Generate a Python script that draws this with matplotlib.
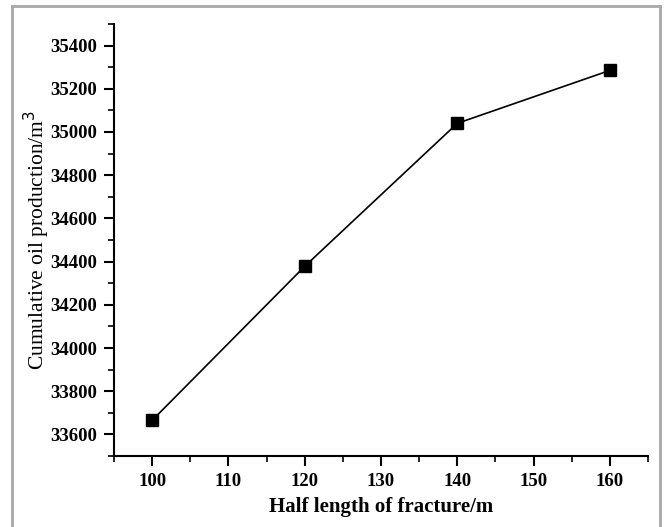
import matplotlib.pyplot as plt
from matplotlib.lines import Line2D
from matplotlib.ticker import MultipleLocator

# fracture half length (m) vs cumulative oil production (m3)
half_length = [100, 120, 140, 160]
cum_oil = [33665, 34378, 35040, 35285]

plt.rcParams['font.family'] = ['Liberation Serif', 'DejaVu Serif']

fig = plt.figure(figsize=(6.65, 5.27), dpi=100)
ax = fig.add_axes([0.1714, 0.1347, 0.8030, 0.8198])

ax.plot(half_length, cum_oil, color='black', linewidth=1.2,
        marker='s', markersize=8, markerfacecolor='black', markeredgecolor='black')

ax.set_xlim(95, 165)
ax.set_ylim(33500, 35500)
ax.xaxis.set_major_locator(MultipleLocator(10))
ax.xaxis.set_minor_locator(MultipleLocator(5))
ax.yaxis.set_major_locator(MultipleLocator(200))
ax.yaxis.set_minor_locator(MultipleLocator(100))

for side in ['top', 'right']:
    ax.spines[side].set_visible(False)
for side in ['left', 'bottom']:
    ax.spines[side].set_linewidth(1.5)

ax.tick_params(which='major', direction='out', length=7, width=1.5, labelsize=13.5, pad=5)
ax.tick_params(which='minor', direction='out', length=4, width=1.2)
for lbl in ax.get_xticklabels() + ax.get_yticklabels():
    lbl.set_fontweight('bold')

ax.set_xlabel('Half length of fracture/m', fontsize=15, fontweight='bold', labelpad=5)
ax.set_ylabel('Cumulative oil production/m$^3$', fontsize=15.5, labelpad=-1)

# light gray frame around the figure
frame = dict(color='#a8a8a8', linewidth=2, transform=fig.transFigure)
fig.add_artist(Line2D([0.018, 0.018], [0, 0.989], **frame))
fig.add_artist(Line2D([0.018, 0.993], [0.989, 0.989], **frame))
fig.add_artist(Line2D([0.993, 0.993], [0, 0.989], **frame))

fig.savefig('out.png', dpi=100)
